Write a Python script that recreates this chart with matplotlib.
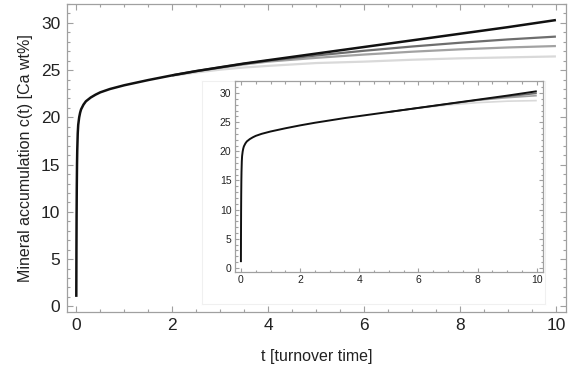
import matplotlib
matplotlib.use("Agg")
import matplotlib.pyplot as plt
from matplotlib.ticker import MultipleLocator

plt.rcParams['font.family'] = ['Liberation Sans', 'DejaVu Sans']

# ---- data ----
t = [0, 0.003, 0.006, 0.01, 0.015, 0.02, 0.03, 0.04, 0.06, 0.08, 0.1, 0.15, 0.2,
     0.3, 0.4, 0.5, 0.7, 1.0, 1.5, 2, 2.5, 3, 3.5, 4, 5, 6, 7, 8, 9, 10]

black = [1.0, 6.0, 9.5, 12.5, 15.0, 16.5, 18.3, 19.2, 20.0, 20.5, 20.85, 21.35, 21.7,
         22.1, 22.4, 22.65, 23.0, 23.4, 23.95, 24.45, 24.9, 25.3, 25.7, 26.05, 26.75,
         27.45, 28.15, 28.85, 29.55, 30.3]
t_late = [2, 2.5, 3, 3.5, 4, 5, 6, 7, 8, 9, 10]
main_dark = [24.45, 24.9, 25.3, 25.68, 26.0, 26.55, 27.05, 27.5, 27.9, 28.25, 28.55]
main_medium = [24.45, 24.88, 25.25, 25.6, 25.9, 26.3, 26.65, 26.95, 27.2, 27.4, 27.55]
main_light = [24.4, 24.75, 25.05, 25.28, 25.45, 25.75, 25.9, 26.1, 26.25, 26.35, 26.45]

t_inset_late = [5, 6, 7, 8, 9, 10]
inset_dark = [26.75, 27.45, 28.15, 28.8, 29.4, 29.95]
inset_medium = [26.75, 27.45, 28.1, 28.75, 29.2, 29.55]
inset_light = [26.75, 27.4, 27.95, 28.35, 28.6, 28.7]

x_ticks = [0, 2, 4, 6, 8, 10]
y_ticks = [0, 5, 10, 15, 20, 25, 30]

c_black = '#111111'
c_dark = '#6e6e6e'
c_medium = '#a2a2a2'
c_light = '#d9d9d9'
frame_c = '#a0a0a0'
label_c = '#222222'

fig = plt.figure(figsize=(5.75, 3.74), dpi=100)

def style(ax, fs, maj, mnr, pad):
    ax.set_xlim(-0.2, 10.21)
    ax.set_ylim(-0.6, 32.0)
    ax.set_xticks(x_ticks)
    ax.set_yticks(y_ticks)
    ax.xaxis.set_minor_locator(MultipleLocator(0.5))
    ax.yaxis.set_minor_locator(MultipleLocator(1))
    for s in ax.spines.values():
        s.set_color(frame_c)
        s.set_linewidth(0.9)
    ax.tick_params(which='both', direction='in', top=True, right=True,
                   color=frame_c, width=0.8, labelcolor=label_c, labelsize=fs, pad=pad)
    ax.tick_params(which='major', length=maj)
    ax.tick_params(which='minor', length=mnr)

# main axes
ax = fig.add_axes([66.7/575, 1-312/374, (566-66.7)/575, (312-4)/374])
ax.plot(t_late, main_light, color=c_light, lw=1.6, solid_capstyle='butt')
ax.plot(t_late, main_medium, color=c_medium, lw=1.6, solid_capstyle='butt')
ax.plot(t_late, main_dark, color=c_dark, lw=1.6, solid_capstyle='butt')
ax.plot(t, black, color=c_black, lw=1.8, solid_capstyle='butt')
style(ax, 12.5, 4, 2.5, 4.5)
ax.set_xlabel('t [turnover time]', fontsize=11.5, color=label_c, labelpad=11)
ax.set_ylabel('Mineral accumulation c(t) [Ca wt%]', fontsize=11.5, color=label_c, labelpad=6)

# faint background box for inset
bg = fig.add_axes([201.5/575, 1-304/374, (545-201.5)/575, (304-81)/374])
bg.set_xticks([])
bg.set_yticks([])
bg.set_facecolor('white')
for s in bg.spines.values():
    s.set_color('#f0f0f0')
    s.set_linewidth(0.8)

# inset axes
ins = fig.add_axes([235/575, 1-272/374, (543-235)/575, (272-81)/374])
ins.plot(t_inset_late, inset_light, color=c_light, lw=1.2, solid_capstyle='butt')
ins.plot(t_inset_late, inset_medium, color=c_medium, lw=1.2, solid_capstyle='butt')
ins.plot(t_inset_late, inset_dark, color=c_dark, lw=1.2, solid_capstyle='butt')
ins.plot(t, black, color=c_black, lw=1.4, solid_capstyle='butt')
style(ins, 7.5, 3, 1.8, 2.5)
ins.set_ylim(-0.69, 32.06)

fig.savefig('out.png', dpi=100)
